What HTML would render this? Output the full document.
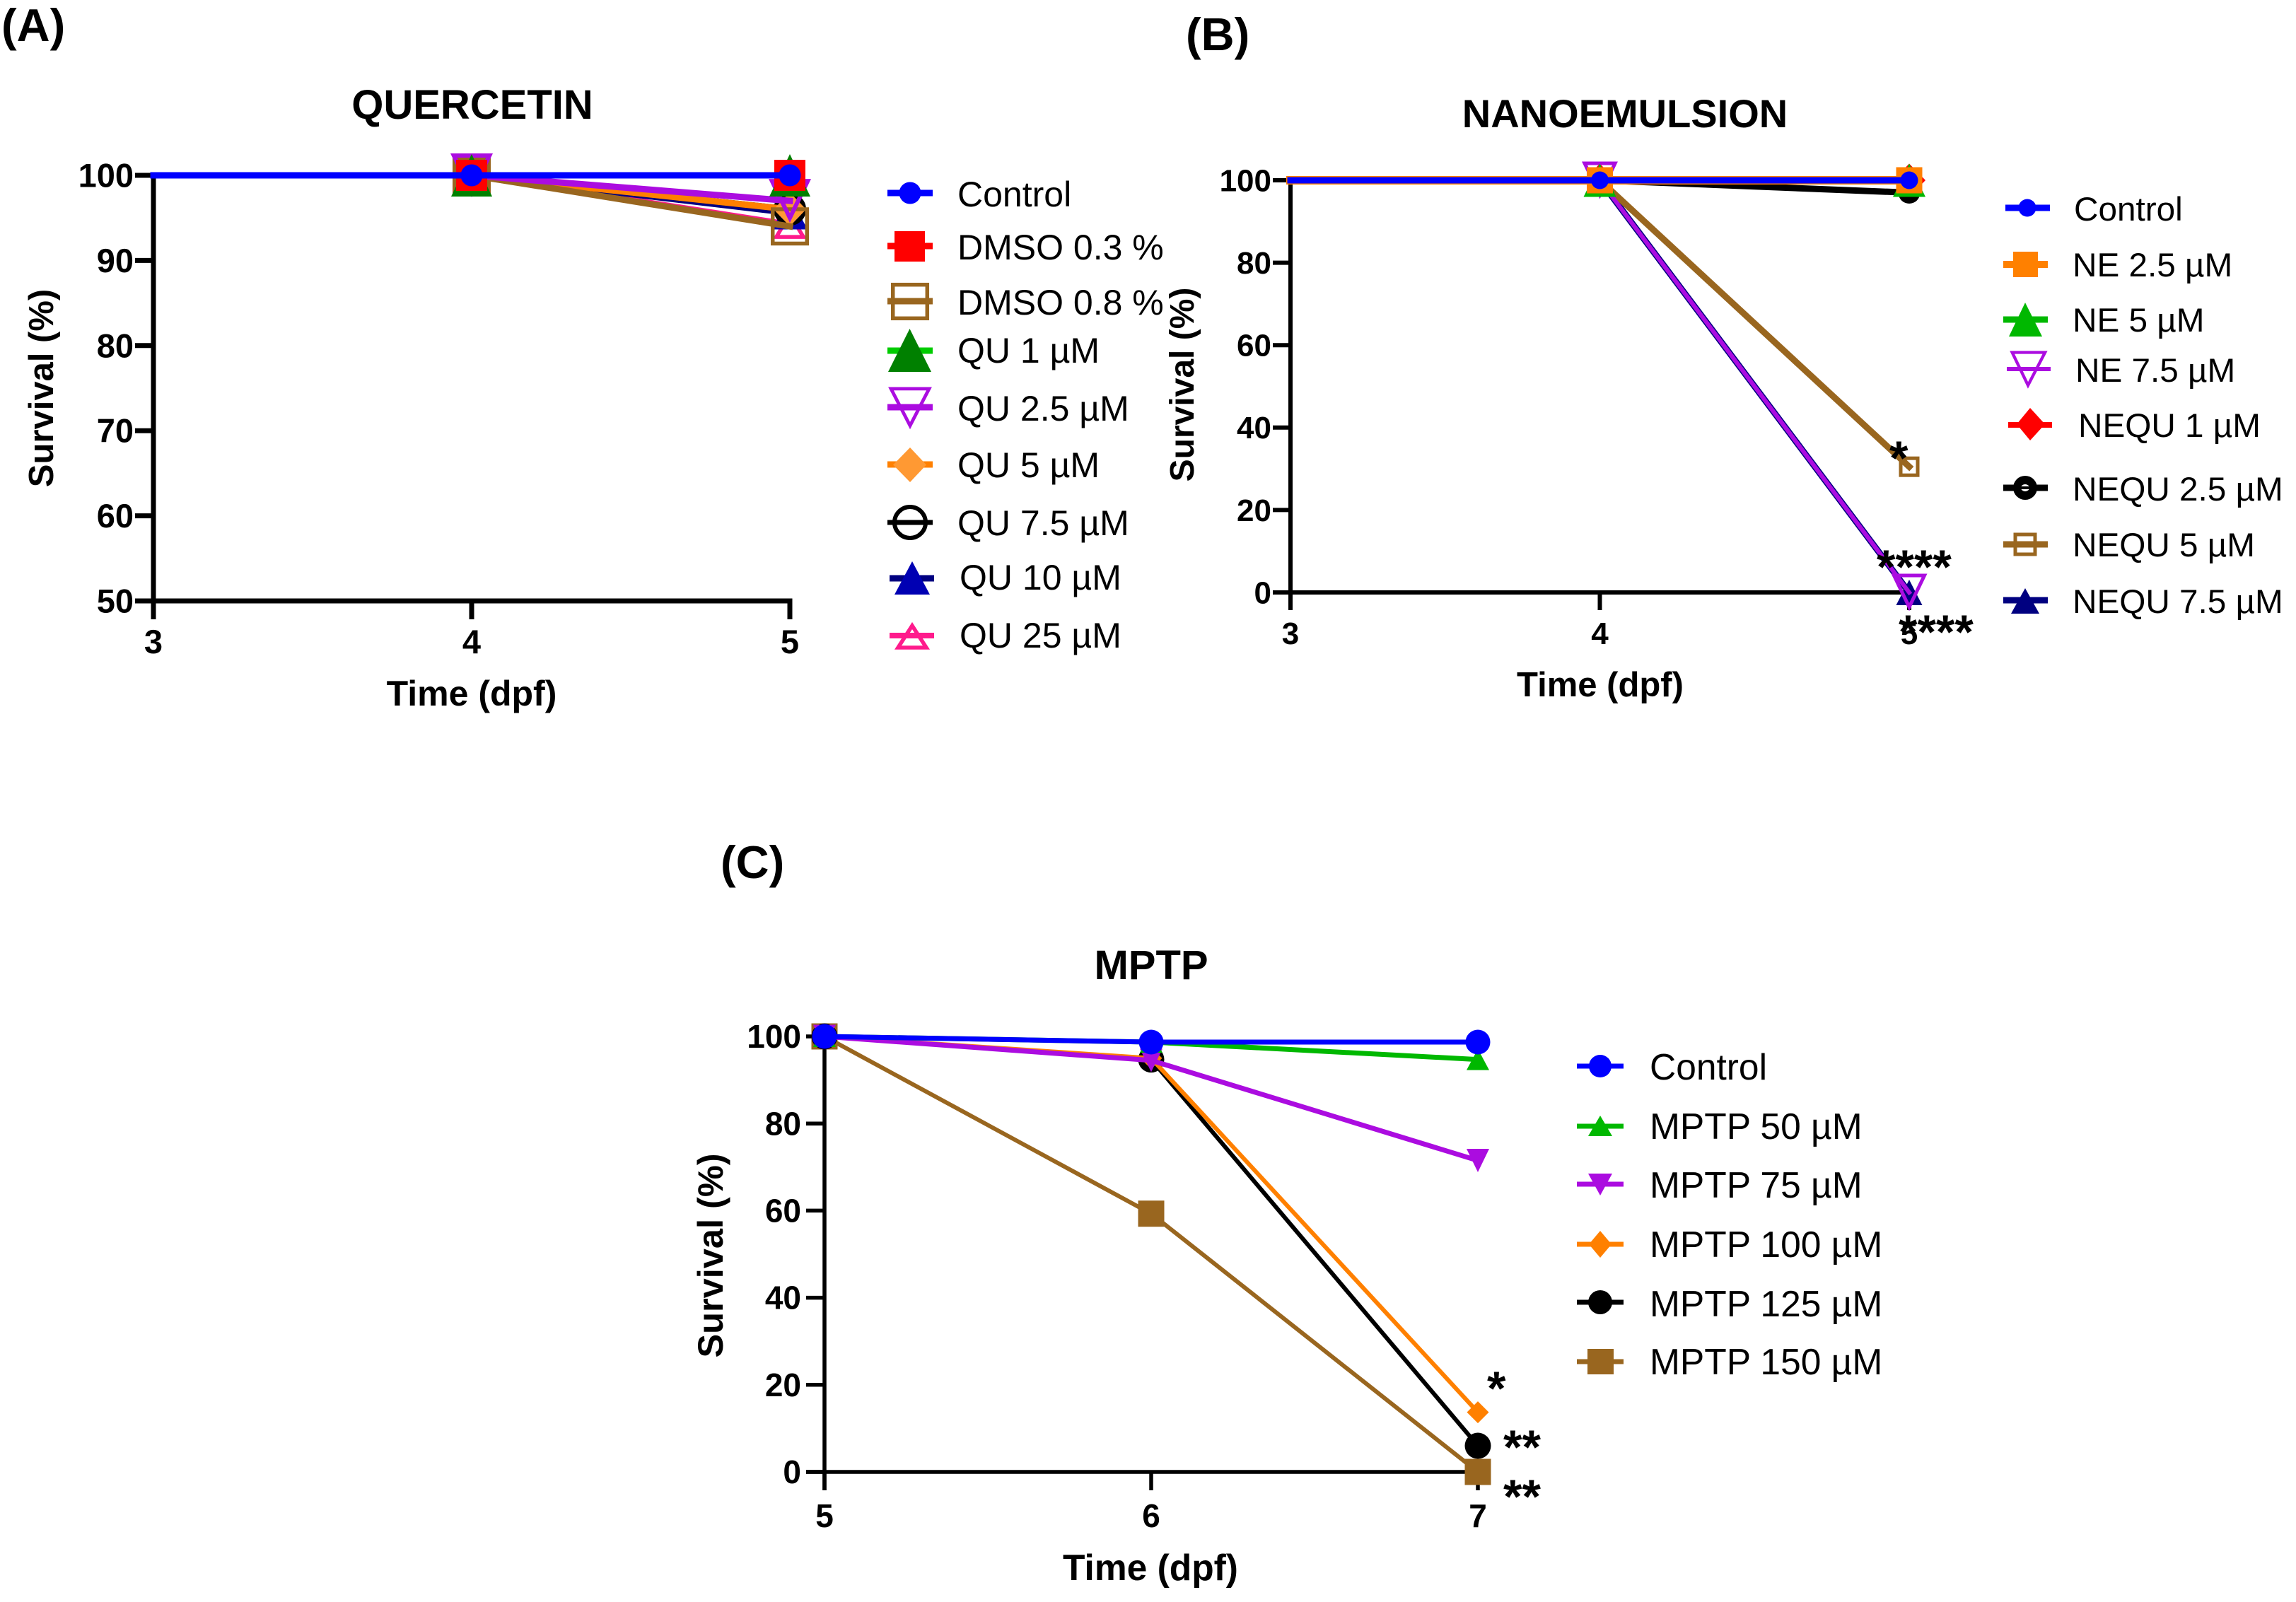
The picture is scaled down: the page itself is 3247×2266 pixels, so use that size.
<!DOCTYPE html>
<html lang="en">
<head>
<meta charset="utf-8">
<title>Survival curves: Quercetin, Nanoemulsion, MPTP</title>
<style>
html,body{margin:0;padding:0;background:#fff;}
svg{display:block;font-family:"Liberation Sans",Arial,sans-serif;}
.b{font-weight:700;fill:#000;}
.leg-a{font-size:50px;fill:#000;}
.leg-b{font-size:47.7px;fill:#000;}
.leg-c{font-size:51.5px;fill:#000;}
.star{font-weight:700;font-size:68px;fill:#000;}
</style>
</head>
<body>
<svg id="fig" xmlns="http://www.w3.org/2000/svg" width="3247" height="2266" viewBox="0 0 3247 2266">
<rect width="3247" height="2266" fill="#fff"/>

<text class="b" x="2" y="58" font-size="65">(A)</text>
<text class="b" x="1677" y="71" font-size="65">(B)</text>
<text class="b" x="1019" y="1242" font-size="65">(C)</text>

<text class="b" x="668" y="168" font-size="58" text-anchor="middle">QUERCETIN</text>
<text class="b" x="2298" y="180" font-size="56" text-anchor="middle">NANOEMULSION</text>
<text class="b" x="1628" y="1385" font-size="58" text-anchor="middle">MPTP</text>

<text class="b" font-size="49" text-anchor="middle" transform="translate(75,549) rotate(-90)">Survival (%)</text>
<text class="b" font-size="48" text-anchor="middle" transform="translate(1688,544) rotate(-90)">Survival (%)</text>
<text class="b" font-size="50.5" text-anchor="middle" transform="translate(1022,1776) rotate(-90)">Survival (%)</text>

<text class="b" x="667" y="998" font-size="50" text-anchor="middle">Time (dpf)</text>
<text class="b" x="2263" y="985" font-size="49" text-anchor="middle">Time (dpf)</text>
<text class="b" x="1627" y="2235" font-size="51.5" text-anchor="middle">Time (dpf)</text>

<g id="panel-a"></g>
<g id="panel-b"></g>
<g id="panel-c"></g>

<text class="star" x="2672" y="671">*</text>
<text class="star" x="2654" y="825">****</text>
<text class="star" x="2685" y="917">****</text>
<text class="star" x="2103" y="1987">*</text>
<text class="star" x="2126" y="2070">**</text>
<text class="star" x="2126" y="2140">**</text>

<!-- Legend A -->
<g>
 <g>
  <line x1="1255" x2="1319" y1="273" y2="273" stroke="#0000ff" stroke-width="9"/><circle cx="1287" cy="273" r="15.5" fill="#0000ff"/>
  <text class="leg-a" x="1354" y="292">Control</text></g>
 <g>
  <line x1="1255" x2="1319" y1="348" y2="348" stroke="#ff0000" stroke-width="9"/><rect x="1265" y="327" width="43" height="43" fill="#ff0000"/>
  <text class="leg-a" x="1354" y="367">DMSO 0.3 %</text></g>
 <g>
  <line x1="1255" x2="1319" y1="426" y2="426" stroke="#99661f" stroke-width="9"/><rect x="1262.7" y="402.7" width="48.6" height="47.6" fill="none" stroke="#99661f" stroke-width="5.5"/>
  <text class="leg-a" x="1354" y="445">DMSO 0.8 %</text></g>
 <g>
  <line x1="1255" x2="1319" y1="496" y2="496" stroke="#00cc00" stroke-width="9"/><polygon points="1286.5,465 1317,526 1256,526" fill="#008000"/>
  <text class="leg-a" x="1354" y="513">QU 1 µM</text></g>
 <g>
  <line x1="1255" x2="1319" y1="576" y2="576" stroke="#ab0ce0" stroke-width="9"/><polygon points="1256,547 1318,547 1287,607" fill="none" stroke="#ab0ce0" stroke-width="5.5" transform="translate(1287 569) scale(.87) translate(-1287 -569)"/>
  <text class="leg-a" x="1354" y="595">QU 2.5 µM</text></g>
 <g>
  <line x1="1255" x2="1319" y1="657" y2="657" stroke="#ff8000" stroke-width="9"/><polygon points="1287,633 1310,657.5 1287,682 1263,657.5" fill="#ff9933"/>
  <text class="leg-a" x="1354" y="675">QU 5 µM</text></g>
 <g>
  <line x1="1255" x2="1319" y1="739" y2="739" stroke="#000" stroke-width="7"/><circle cx="1287" cy="739" r="22" fill="none" stroke="#000" stroke-width="6"/>
  <text class="leg-a" x="1354" y="757">QU 7.5 µM</text></g>
 <g>
  <line x1="1258" x2="1321" y1="818" y2="818" stroke="#000080" stroke-width="9"/><polygon points="1290,794 1315,841 1265,841" fill="#0000b3"/>
  <text class="leg-a" x="1357" y="834">QU 10 µM</text></g>
 <g>
  <line x1="1258" x2="1321" y1="899" y2="899" stroke="#ff1a8c" stroke-width="8"/><polygon points="1290,885 1310,916 1270,916" fill="none" stroke="#ff1a8c" stroke-width="5.5"/>
  <text class="leg-a" x="1357" y="916">QU 25 µM</text></g>
</g>

<!-- Legend B -->
<g>
 <g>
  <line x1="2836" x2="2899" y1="294" y2="294" stroke="#0000ff" stroke-width="9"/><circle cx="2867" cy="294" r="12.5" fill="#0000ff"/>
  <text class="leg-b" x="2933" y="312">Control</text></g>
 <g>
  <line x1="2833" x2="2896" y1="374" y2="374" stroke="#ff8000" stroke-width="10"/><rect x="2847" y="356" width="35" height="36" fill="#ff8000"/>
  <text class="leg-b" x="2931" y="391">NE 2.5 µM</text></g>
 <g>
  <line x1="2833" x2="2896" y1="452" y2="452" stroke="#00b800" stroke-width="9"/><polygon points="2864,428 2888,476 2841,476" fill="#00b800"/>
  <text class="leg-b" x="2931" y="469">NE 5 µM</text></g>
 <g>
  <line x1="2838" x2="2900" y1="522" y2="522" stroke="#ab0ce0" stroke-width="6"/><polygon points="2842,496 2896,496 2868,550" fill="none" stroke="#ab0ce0" stroke-width="5" transform="translate(2868 514) scale(.86) translate(-2868 -514)"/>
  <text class="leg-b" x="2935" y="540">NE 7.5 µM</text></g>
 <g>
  <line x1="2840" x2="2902" y1="601" y2="601" stroke="#ff0000" stroke-width="8"/><polygon points="2871,577 2892,600 2871,623 2852,600" fill="#ff0000"/>
  <text class="leg-b" x="2939" y="618">NEQU 1 µM</text></g>
 <g>
  <line x1="2833" x2="2896" y1="690" y2="690" stroke="#000" stroke-width="9"/><circle cx="2864" cy="690" r="17" fill="#000"/><ellipse cx="2864" cy="690" rx="6" ry="5" fill="#fff"/><line x1="2856" x2="2872" y1="690" y2="690" stroke="#000" stroke-width="4"/>
  <text class="leg-b" x="2931" y="708">NEQU 2.5 µM</text></g>
 <g>
  <line x1="2833" x2="2896" y1="770" y2="770" stroke="#99661f" stroke-width="9"/><rect x="2850" y="756" width="28" height="28" fill="none" stroke="#99661f" stroke-width="5"/>
  <text class="leg-b" x="2931" y="787">NEQU 5 µM</text></g>
 <g>
  <line x1="2833" x2="2896" y1="849" y2="849" stroke="#000080" stroke-width="9"/><polygon points="2864,832 2884,868 2844,868" fill="#000080"/>
  <text class="leg-b" x="2931" y="867">NEQU 7.5 µM</text></g>
</g>

<!-- Legend C -->
<g>
 <g>
  <line x1="2230" x2="2296" y1="1508" y2="1508" stroke="#0000ff" stroke-width="7"/><circle cx="2263" cy="1508" r="16" fill="#0000ff"/>
  <text class="leg-c" x="2333" y="1527">Control</text></g>
 <g>
  <line x1="2230" x2="2296" y1="1593" y2="1593" stroke="#00b800" stroke-width="7"/><polygon points="2263,1578 2280,1607 2246,1607" fill="#00b800"/>
  <text class="leg-c" x="2333" y="1611">MPTP 50 µM</text></g>
 <g>
  <line x1="2230" x2="2296" y1="1675" y2="1675" stroke="#ab0ce0" stroke-width="7"/><polygon points="2246,1660 2280,1660 2263,1691" fill="#ab0ce0"/>
  <text class="leg-c" x="2333" y="1694">MPTP 75 µM</text></g>
 <g>
  <line x1="2230" x2="2296" y1="1760" y2="1760" stroke="#ff8000" stroke-width="7"/><polygon points="2263,1741 2279,1760 2263,1779 2247,1760" fill="#ff8000"/>
  <text class="leg-c" x="2333" y="1778">MPTP 100 µM</text></g>
 <g>
  <line x1="2230" x2="2296" y1="1842" y2="1842" stroke="#000" stroke-width="7"/><circle cx="2263" cy="1842" r="17" fill="#000"/>
  <text class="leg-c" x="2333" y="1862">MPTP 125 µM</text></g>
 <g>
  <line x1="2230" x2="2296" y1="1926" y2="1926" stroke="#99661f" stroke-width="7"/><rect x="2245" y="1908" width="37" height="36" fill="#99661f"/>
  <text class="leg-c" x="2333" y="1944">MPTP 150 µM</text></g>
</g>

<script>
// ---- Panel A data ----
const daysA = [3, 4, 5];
const yTicksA = [50, 60, 70, 80, 90, 100];
const quControl = [100, 100, 100];
const quDmso03 = [100, 100, 100];
const quDmso08 = [100, 100, 94];
const qu1 = [100, 100, 100];
const qu25 = [100, 100, 97];
const qu5 = [100, 100, 96];
const qu75 = [100, 100, 96];
const qu10 = [100, 100, 95.6];
const qu25uM = [100, 100, 94.2];

// ---- Panel B data ----
const daysB = [3, 4, 5];
const yTicksB = [0, 20, 40, 60, 80, 100];
const neControl = [100, 100, 100];
const ne25 = [100, 100, 100];
const ne5 = [100, 100, 100];
const ne75 = [100, 100, 0];
const nequ1 = [100, 100, 100];
const nequ25 = [100, 100, 97];
const nequ5 = [100, 100, 30.5];
const nequ75 = [100, 100, 0];

// ---- Panel C data ----
const daysC = [5, 6, 7];
const yTicksC = [0, 20, 40, 60, 80, 100];
const mpControl = [100, 98.7, 98.7];
const mp50 = [100, 98.7, 94.7];
const mp75 = [100, 94.5, 71.5];
const mp100 = [100, 95, 13.7];
const mp125 = [100, 94.7, 6];
const mp150 = [100, 59.3, 0];

const NS = 'http://www.w3.org/2000/svg';
function mk(tag, parent) {
  const el = document.createElementNS(NS, tag);
  parent.appendChild(el);
  return el;
}

// Axis scale functions
const xA = d => 217 + (d - 3) * 450;
const yA = v => 248 + (100 - v) * 12.04;
const xB = d => 1825 + (d - 3) * 437.5;
const yB = v => 255 + (100 - v) * 5.83;
const xC = d => 1166 + (d - 5) * 462;
const yC = v => 1466 + (100 - v) * 6.16;

function triPath(cx, cy, w, h, down, t) {
  const s = down ? -1 : 1;
  const top = cy - s * h / 2, base = cy + s * h / 2;
  let d = 'M' + cx + ' ' + top + 'L' + (cx + w / 2) + ' ' + base + 'L' + (cx - w / 2) + ' ' + base + 'Z';
  if (t) {
    const side = Math.sqrt(h * h + w * w / 4);
    const r = (w * h / 2) / ((w + 2 * side) / 2);
    const k = (r - t) / r;
    const iy = base - s * r;
    d += 'M' + cx + ' ' + (iy + (top - iy) * k) +
         'L' + (cx + w / 2 * k) + ' ' + (iy + (base - iy) * k) +
         'L' + (cx - w / 2 * k) + ' ' + (iy + (base - iy) * k) + 'Z';
  }
  return d;
}

function drawMarker(g, s, px, py) {
  let el;
  if (s.kind === 'circle') {
    el = mk('circle', g);
    el.setAttribute('cx', px);
    el.setAttribute('cy', py);
    el.setAttribute('r', s.t ? (s.w - s.t) / 2 : s.w / 2);
    if (s.t) { el.setAttribute('fill', 'none'); el.setAttribute('stroke', s.mc); el.setAttribute('stroke-width', s.t); }
    else el.setAttribute('fill', s.mc);
  } else if (s.kind === 'square') {
    el = mk('rect', g);
    const t = s.t || 0;
    el.setAttribute('x', px - s.w / 2 + t / 2);
    el.setAttribute('y', py - s.w / 2 + t / 2);
    el.setAttribute('width', s.w - t);
    el.setAttribute('height', s.w - t);
    if (t) { el.setAttribute('fill', 'none'); el.setAttribute('stroke', s.mc); el.setAttribute('stroke-width', t); }
    else el.setAttribute('fill', s.mc);
  } else if (s.kind === 'diamond') {
    el = mk('polygon', g);
    el.setAttribute('points', px + ',' + (py - s.h / 2) + ' ' + (px + s.w / 2) + ',' + py + ' ' + px + ',' + (py + s.h / 2) + ' ' + (px - s.w / 2) + ',' + py);
    el.setAttribute('fill', s.mc);
  } else {
    el = mk('path', g);
    el.setAttribute('d', triPath(px, py, s.w, s.h, s.kind === 'dtri', s.t));
    el.setAttribute('fill', s.mc);
    el.setAttribute('fill-rule', 'evenodd');
  }
  return el;
}

function drawAxes(g, key, days, ticks, xf, yf, cfg) {
  const y0 = yf(ticks[0]), y1 = yf(ticks[ticks.length - 1]);
  const x0 = xf(days[0]), x1 = xf(days[days.length - 1]);

  const ya = mk('line', g);
  
  
  ya.setAttribute('x1', x0); ya.setAttribute('x2', x0);
  ya.setAttribute('y1', y1 - cfg.sw / 2); ya.setAttribute('y2', y0 + cfg.len);
  ya.setAttribute('stroke', '#000'); ya.setAttribute('stroke-width', cfg.sw);

  const xa = mk('line', g);
  
  
  xa.setAttribute('x1', x0 - cfg.len); xa.setAttribute('x2', x1 + cfg.sw / 2);
  xa.setAttribute('y1', y0); xa.setAttribute('y2', y0);
  xa.setAttribute('stroke', '#000'); xa.setAttribute('stroke-width', cfg.sw);

  ticks.forEach(v => {
    const tk = mk('line', g);
    
    
    tk.setAttribute('x1', x0 - cfg.len); tk.setAttribute('x2', x0);
    tk.setAttribute('y1', yf(v)); tk.setAttribute('y2', yf(v));
    tk.setAttribute('stroke', '#000'); tk.setAttribute('stroke-width', cfg.sw);

    const lb = mk('text', g);
    
    
    lb.setAttribute('class', 'b');
    lb.setAttribute('x', x0 - cfg.len - cfg.gap);
    lb.setAttribute('y', yf(v) + cfg.fs * 0.35);
    lb.setAttribute('font-size', cfg.fs);
    lb.setAttribute('text-anchor', 'end');
    lb.textContent = v;
  });

  days.forEach(d => {
    const tk = mk('line', g);
    
    
    tk.setAttribute('x1', xf(d)); tk.setAttribute('x2', xf(d));
    tk.setAttribute('y1', y0); tk.setAttribute('y2', y0 + cfg.len);
    tk.setAttribute('stroke', '#000'); tk.setAttribute('stroke-width', cfg.sw);

    const lb = mk('text', g);
    
    
    lb.setAttribute('class', 'b');
    lb.setAttribute('x', xf(d));
    lb.setAttribute('y', cfg.xBase);
    lb.setAttribute('font-size', cfg.fs);
    lb.setAttribute('text-anchor', 'middle');
    lb.textContent = d;
  });
}

function drawSeries(g, days, series, xf, yf, sw) {
  // Back-to-front: the last listed series sits at the bottom, the first on top.
  series.slice().reverse().forEach(s => {
    const grp = mk('g', g);
    
    

    const line = mk('polyline', grp);
    
    
    line.setAttribute('points', s.values.map((v, i) => xf(days[i]) + ',' + yf(v)).join(' '));
    line.setAttribute('fill', 'none');
    line.setAttribute('stroke', s.lc);
    line.setAttribute('stroke-width', s.sw || sw);
    line.setAttribute('stroke-linecap', 'square');

    s.values.forEach((v, i) => {
      if (s.skipFirst && i === 0) return;
      const m = drawMarker(grp, s, xf(days[i]), yf(v));
      
      
    });
  });
}

const BROWN = '#99661f', PURPLE = '#ab0ce0';

drawAxes(document.getElementById('panel-a'), 'a', daysA, yTicksA, xA, yA, {sw: 7, len: 26, gap: 2, fs: 47, xBase: 924});
drawSeries(document.getElementById('panel-a'), daysA, [
  {id: 'control', values: quControl, lc: '#0000ff', mc: '#0000ff', kind: 'circle', w: 31, skipFirst: true},
  {id: 'dmso-0-3', values: quDmso03, lc: '#ff0000', mc: '#ff0000', kind: 'square', w: 44, skipFirst: true},
  {id: 'qu-1', values: qu1, lc: '#00cc00', mc: '#008000', kind: 'tri', w: 58, h: 60, skipFirst: true},
  {id: 'qu-2-5', values: qu25, lc: PURPLE, mc: PURPLE, kind: 'dtri', w: 60, h: 62, t: 6, skipFirst: true},
  {id: 'dmso-0-8', values: quDmso08, lc: BROWN, mc: BROWN, kind: 'square', w: 54, t: 5.5, skipFirst: true},
  {id: 'qu-5', values: qu5, lc: '#ff8000', mc: '#ff9933', kind: 'diamond', w: 46, h: 48, skipFirst: true},
  {id: 'qu-7-5', values: qu75, lc: '#000', mc: '#000', kind: 'circle', w: 46, t: 6, skipFirst: true},
  {id: 'qu-10', values: qu10, lc: '#000080', mc: '#0000b3', kind: 'tri', w: 50, h: 47, skipFirst: true},
  {id: 'qu-25', values: qu25uM, lc: '#ff1a8c', mc: '#ff1a8c', kind: 'tri', w: 48, h: 40, t: 5.5, skipFirst: true}
], xA, yA, 9);

drawAxes(document.getElementById('panel-b'), 'b', daysB, yTicksB, xB, yB, {sw: 6, len: 25, gap: 2, fs: 44, xBase: 911});
drawSeries(document.getElementById('panel-b'), daysB, [
  {id: 'control', values: neControl, lc: '#0000ff', mc: '#0000ff', kind: 'circle', w: 25, skipFirst: true},
  {id: 'ne-2-5', values: ne25, lc: '#ff8000', mc: '#ff8000', kind: 'square', w: 37, sw: 12, skipFirst: true},
  {id: 'ne-5', values: ne5, lc: '#00b800', mc: '#00b800', kind: 'tri', w: 46, h: 47, skipFirst: true},
  {id: 'ne-7-5', values: ne75, lc: PURPLE, mc: PURPLE, kind: 'dtri', w: 51, h: 53, t: 5, sw: 6, skipFirst: true},
  {id: 'nequ-1', values: nequ1, lc: '#ff0000', mc: '#ff0000', kind: 'diamond', w: 46, h: 47, skipFirst: true},
  {id: 'nequ-2-5', values: nequ25, lc: '#000', mc: '#000', kind: 'circle', w: 31, skipFirst: true},
  {id: 'nequ-5', values: nequ5, lc: BROWN, mc: BROWN, kind: 'square', w: 29, t: 5, skipFirst: true},
  {id: 'nequ-7-5', values: nequ75, lc: '#000080', mc: '#000080', kind: 'tri', w: 37, h: 36, skipFirst: true}
], xB, yB, 9);

drawAxes(document.getElementById('panel-c'), 'c', daysC, yTicksC, xC, yC, {sw: 5.5, len: 26, gap: 7, fs: 46, xBase: 2160});
drawSeries(document.getElementById('panel-c'), daysC, [
  {id: 'control', values: mpControl, lc: '#0000ff', mc: '#0000ff', kind: 'circle', w: 35, sw: 7},
  {id: 'mptp-50', values: mp50, lc: '#00b800', mc: '#00b800', kind: 'tri', w: 32, h: 30, sw: 7},
  {id: 'mptp-75', values: mp75, lc: PURPLE, mc: PURPLE, kind: 'dtri', w: 32, h: 33, sw: 7},
  {id: 'mptp-100', values: mp100, lc: '#ff8000', mc: '#ff8000', kind: 'diamond', w: 31, h: 31},
  {id: 'mptp-125', values: mp125, lc: '#000', mc: '#000', kind: 'circle', w: 37},
  {id: 'mptp-150', values: mp150, lc: BROWN, mc: BROWN, kind: 'square', w: 37}
], xC, yC, 6);
</script>
</svg>
</body>
</html>
